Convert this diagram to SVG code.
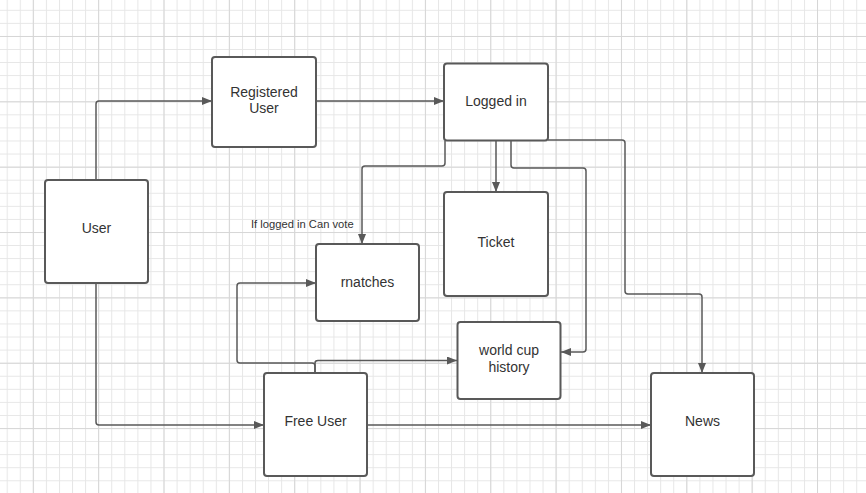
<svg xmlns="http://www.w3.org/2000/svg" width="866" height="493" viewBox="0 0 866 493">
<defs>
<pattern id="minor" patternUnits="userSpaceOnUse" x="6.7" y="9.8" width="13.07" height="13.07">
<path d="M0 0.5H13.07M0.5 0V13.07" fill="none" stroke="#e6e6e6" stroke-width="1"/>
</pattern>
<pattern id="major" patternUnits="userSpaceOnUse" x="32.8" y="36" width="65.35" height="65.35">
<path d="M0 0.5H65.35M0.5 0V65.35" fill="none" stroke="#d6d6d6" stroke-width="1"/>
</pattern>
<marker id="arr" viewBox="0 0 10 8" refX="10" refY="4" markerWidth="10" markerHeight="8" markerUnits="userSpaceOnUse" orient="auto">
<path d="M0 0L10 4L0 8Z" fill="#595959"/>
</marker>
<style>
.node rect{fill:#fff;stroke:#595959;stroke-width:2}
.node text{font-family:"Liberation Sans",Arial,sans-serif;font-size:14px;fill:#333;text-anchor:middle}
#connectors path{fill:none;stroke:#595959;stroke-width:1.5;stroke-linejoin:round}
.lbl{font-family:"Liberation Sans",Arial,sans-serif;font-size:11.2px;fill:#333}
</style>
</defs>
<rect width="866" height="493" fill="#fff"/>
<rect width="866" height="493" fill="url(#minor)"/>
<rect width="866" height="493" fill="url(#major)"/>

<g id="connectors">
<path d="M96 180V104Q96 101 99 101H212" marker-end="url(#arr)"/>
<path d="M316 101H444" marker-end="url(#arr)"/>
<path d="M496 141V192" marker-end="url(#arr)"/>
<path d="M445 141V163Q445 166 442 166H365Q362 166 362 169V244" marker-end="url(#arr)"/>
<path d="M511 141V165Q511 168 514 168H583Q586 168 586 171V349Q586 352 583 352H561" marker-end="url(#arr)"/>
<path d="M548 140H622Q625 140 625 143V291Q625 294 628 294H699Q702 294 702 297V373" marker-end="url(#arr)"/>
<path d="M96 283V422Q96 425 99 425H264" marker-end="url(#arr)"/>
<path d="M367 425H651" marker-end="url(#arr)"/>
<path d="M315 373V363Q315 360.5 318 360.5H457" marker-end="url(#arr)"/>
<path d="M315 373V366Q315 363 312 363H240Q237 363 237 360V286Q237 283 240 283H316" marker-end="url(#arr)"/>
</g>

<text class="lbl" x="251" y="228">If logged in Can vote</text>

<g id="user" class="node"><rect x="45" y="180" width="103" height="103" rx="3"/><text x="96.5" y="233">User</text></g>
<g id="registered-user" class="node"><rect x="212" y="57" width="104" height="90" rx="3"/><text x="264" y="97">Registered</text><text x="264" y="113">User</text></g>
<g id="logged-in" class="node"><rect x="444" y="63.5" width="104" height="77" rx="3"/><text x="496" y="106">Logged in</text></g>
<g id="ticket" class="node"><rect x="444" y="192" width="104" height="104" rx="3"/><text x="496" y="247">Ticket</text></g>
<g id="matches" class="node"><rect x="316" y="244" width="103" height="77" rx="3"/><text x="367.5" y="287">rnatches</text></g>
<g id="world-cup-history" class="node"><rect x="457.5" y="322" width="103" height="77" rx="3"/><text x="509" y="355">world cup</text><text x="509" y="372">history</text></g>
<g id="free-user" class="node"><rect x="264" y="373" width="103" height="103" rx="3"/><text x="315.5" y="426">Free User</text></g>
<g id="news" class="node"><rect x="651" y="373" width="103" height="103" rx="3"/><text x="702.5" y="426">News</text></g>
</svg>
